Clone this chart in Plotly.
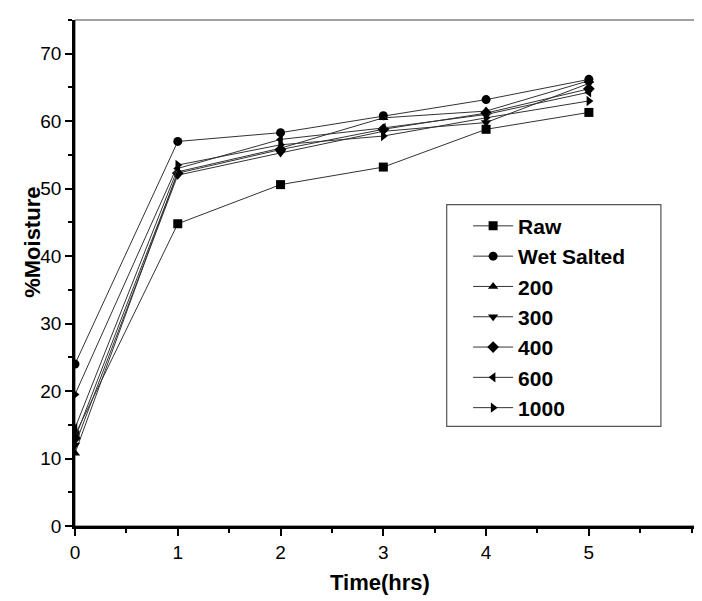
import plotly.graph_objects as go

time_hrs = [0, 1, 2, 3, 4, 5]
series_names = ["Raw", "Wet Salted", "200", "300", "400", "600", "1000"]
raw = [13.5, 44.8, 50.6, 53.2, 58.8, 61.3]
wet_salted = [24.0, 57.0, 58.3, 60.8, 63.2, 66.2]
s200 = [10.8, 52.5, 56.0, 60.5, 61.5, 66.0]
s300 = [12.0, 52.0, 55.3, 58.5, 59.8, 65.6]
s400 = [13.0, 52.3, 55.8, 58.8, 61.2, 64.8]
s600 = [14.5, 53.0, 57.3, 59.0, 61.0, 64.3]
s1000 = [19.5, 53.5, 56.5, 57.8, 60.5, 63.0]
y_ticks = [0, 10, 20, 30, 40, 50, 60, 70]
x_ticks = [0, 1, 2, 3, 4, 5]

all_series = [raw, wet_salted, s200, s300, s400, s600, s1000]
symbols = ["square", "circle", "triangle-up", "triangle-down", "diamond", "triangle-left", "triangle-right"]

fig = go.Figure()
for i, (name, vals, sym) in enumerate(zip(series_names, all_series, symbols)):
    fig.add_trace(go.Scatter(
        x=time_hrs, y=vals, name=name, mode="lines+markers",
        line=dict(color="#333333", width=1),
        marker=dict(symbol=sym, size=9, color="black"),
        legendgroup=f"g{i}",
    ))

font_family = "Liberation Sans, Arial, sans-serif"
fig.update_layout(
    width=702, height=601,
    margin=dict(l=67, r=5, t=12, b=83),
    paper_bgcolor="white", plot_bgcolor="white",
    font=dict(family=font_family, color="black", size=19),
    showlegend=True,
    legend=dict(
        x=0.624, y=0.633, xanchor="left", yanchor="top",
        bgcolor="rgba(0,0,0,0)", borderwidth=0,
        font=dict(family=font_family, size=21, color="black", weight="bold"),
        tracegroupgap=0,
        itemwidth=40,
    ),
    xaxis=dict(
        range=[0, 6.13], tickvals=x_ticks, showgrid=False, zeroline=False,
        showline=True, linecolor="black", linewidth=2.5,
        ticks="outside", ticklen=7, tickwidth=2, tickcolor="black",
        minor=dict(dtick=0.5, ticks="outside", ticklen=4, tickwidth=1.5, tickcolor="black", showgrid=False),
        tickfont=dict(size=19),
    ),
    yaxis=dict(
        range=[0, 75], tickvals=y_ticks, showgrid=False, zeroline=False,
        showline=True, linecolor="black", linewidth=2.5,
        ticks="outside", ticklen=7, tickwidth=2, tickcolor="black",
        minor=dict(dtick=5, ticks="outside", ticklen=4, tickwidth=1.5, tickcolor="black", showgrid=False),
        tickfont=dict(size=19),
    ),
    shapes=[
        dict(type="rect", xref="paper", yref="paper", x0=0, x1=1, y0=0, y1=1,
             line=dict(color="#444444", width=1), layer="below"),
        dict(type="rect", xref="paper", yref="paper", x0=0.59, x1=0.93, y0=0.197, y1=0.635,
             line=dict(color="#555555", width=1.2), fillcolor="white", layer="below"),
    ],
    annotations=[
        dict(text="<b>Time(hrs)</b>", xref="paper", yref="paper", x=0.484, y=-0.112,
             xanchor="center", yanchor="middle", showarrow=False,
             font=dict(size=22, family=font_family)),
        dict(text="<b>%Moisture</b>", xref="paper", yref="paper", x=-0.068, y=0.56,
             xanchor="center", yanchor="middle", showarrow=False, textangle=-90,
             font=dict(size=22, family=font_family)),
    ],
)

fig.write_html("out.html")
